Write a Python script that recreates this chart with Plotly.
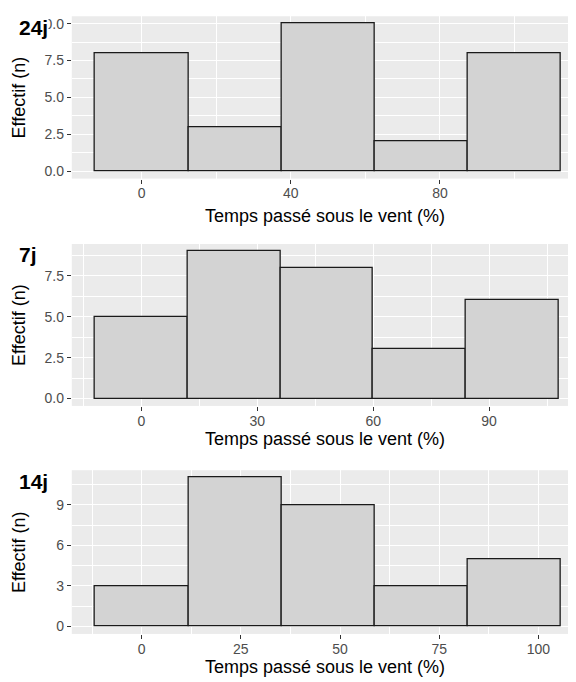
import plotly.graph_objects as go

# histogram bins (centres) and counts for each panel
centres_24j = [0, 25, 50, 75, 100]
counts_24j = [8, 3, 10, 2, 8]
centres_7j = [0, 24, 48, 72, 96]
counts_7j = [5, 9, 8, 3, 6]
centres_14j = [0, 23.5, 47, 70.5, 94]
counts_14j = [3, 11, 9, 3, 5]

tags = ["24j", "7j", "14j"]
x_title = "Temps passé sous le vent (%)"
y_title = "Effectif (n)"

# the page body has an 8px margin, so the figure is 8px smaller than the window
OFF = 8
W, H = 576 - OFF, 682 - OFF
FONT = "Liberation Sans, Arial, sans-serif"

# panel layout in window pixels (top, bottom), x ranges, title positions
panels = [
    dict(c=centres_24j, n=counts_24j, w=25, top=15.3, bot=178.1,
         xr=[-18.75, 116.5], yr=[-0.5, 10.5], xd=40, yd=2.5, tag_y=27, title_y=216),
    dict(c=centres_7j, n=counts_7j, w=24, top=243.7, bot=406.1,
         xr=[-18, 112.5], yr=[-0.45, 9.45], xd=30, yd=2.5, tag_y=254, title_y=439),
    dict(c=centres_14j, n=counts_14j, w=23.5, top=470.6, bot=634.8,
         xr=[-17.625, 109.5], yr=[-0.55, 11.55], xd=25, yd=3, tag_y=482, title_y=668),
]


def px(x):
    return (x - OFF) / W


def py(y):
    return 1 - (y - OFF) / H


left = px(71.8)

fig = go.Figure()
annotations = []
for i, p in enumerate(panels):
    k = "" if i == 0 else str(i + 1)
    fig.add_trace(go.Bar(
        x=p["c"], y=p["n"], width=p["w"],
        marker=dict(color="#D3D3D3", line=dict(color="#1a1a1a", width=1.3)),
        xaxis="x" + k, yaxis="y" + k, showlegend=False, hoverinfo="x+y",
    ))
    axis_common = dict(
        showline=False, zeroline=False, ticks="outside", ticklen=4,
        tickwidth=1, tickcolor="#333333", gridcolor="white", gridwidth=1.1,
        tickfont=dict(family=FONT, size=14, color="#4D4D4D"),
        tickmode="linear", tick0=0,
    )
    fig.update_layout(**{
        "xaxis" + k: dict(axis_common, domain=[left, 1], range=p["xr"],
                          anchor="y" + k, dtick=p["xd"], ticklabelstandoff=-2,
                          minor=dict(dtick=p["xd"] / 2, showgrid=True,
                                     gridcolor="white", gridwidth=0.55, ticklen=0)),
        "yaxis" + k: dict(axis_common, domain=[py(p["bot"]), py(p["top"])],
                          range=p["yr"], anchor="x" + k, dtick=p["yd"],
                          tickformat=".1f" if p["yd"] == 2.5 else "d",
                          minor=dict(dtick=p["yd"] / 2, showgrid=True,
                                     gridcolor="white", gridwidth=0.55, ticklen=0)),
    })
    # axis titles
    annotations.append(dict(
        text=x_title, xref="paper", yref="paper",
        x=px(325), y=py(p["title_y"]),
        showarrow=False, font=dict(family=FONT, size=18, color="black"),
        xanchor="center", yanchor="middle"))
    annotations.append(dict(
        text=y_title, xref="paper", yref="paper", textangle=-90,
        x=px(19), y=py((p["top"] + p["bot"]) / 2),
        showarrow=False, font=dict(family=FONT, size=18, color="black"),
        xanchor="center", yanchor="middle"))
    # panel tag (drawn over the top tick label, as in the original)
    annotations.append(dict(
        text="<b>" + tags[i] + "</b>", xref="paper", yref="paper",
        x=px(18), y=py(p["tag_y"]), showarrow=False,
        font=dict(family=FONT, size=21, color="black"), bgcolor="white",
        borderpad=0, xanchor="left", yanchor="middle"))

fig.update_layout(
    width=W, height=H,
    margin=dict(l=0, r=0, t=0, b=0),
    paper_bgcolor="white", plot_bgcolor="#EBEBEB",
    bargap=0, annotations=annotations,
    font=dict(family=FONT),
)

fig.write_html("out.html")
